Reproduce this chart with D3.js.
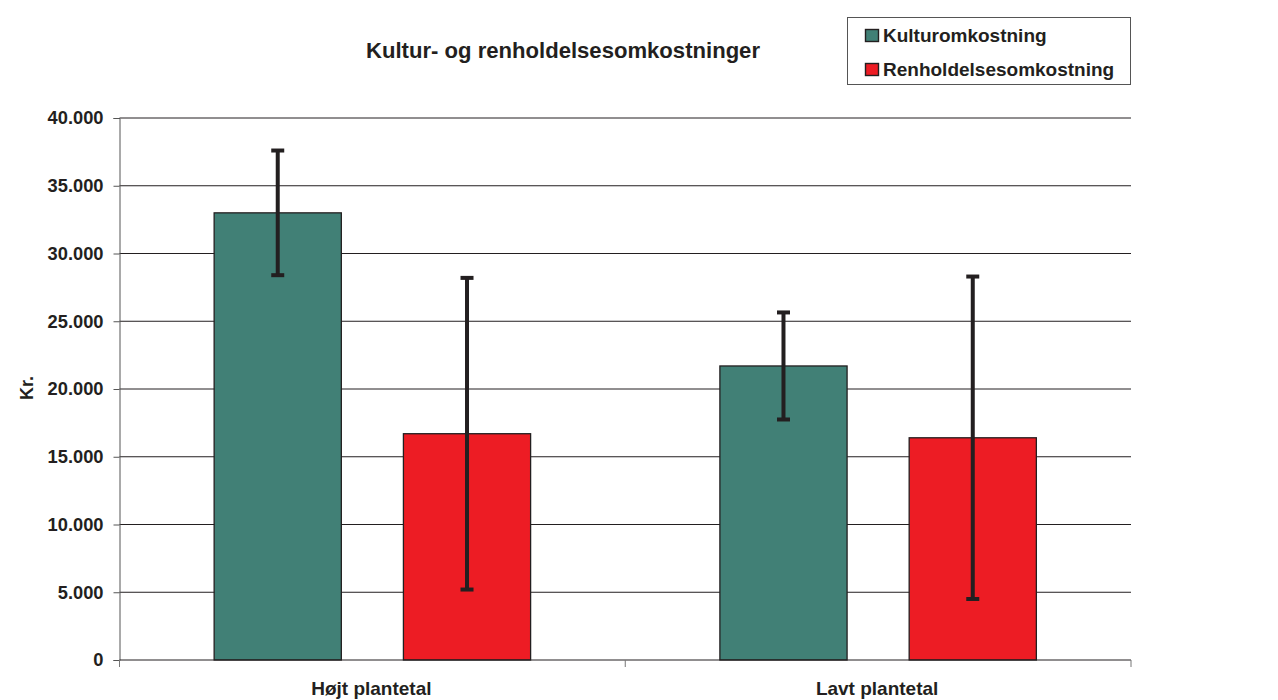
<!DOCTYPE html>
<html>
<head>
<meta charset="utf-8">
<script src="https://cdn.jsdelivr.net/npm/d3@7"></script>
<style>
  body { margin: 0; background: #fff; }
  text { font-family: "Liberation Sans", Arial, sans-serif; font-weight: bold; fill: #231f20; }
</style>
</head>
<body>
<svg id="chart" width="1278" height="700"></svg>
<script>
const categories = ['Højt plantetal', 'Lavt plantetal'];
const seriesNames = ['Kulturomkostning', 'Renholdelsesomkostning'];
const kulturValues = [33000, 21700];
const kulturErrors = [4600, 3950];
const renholdValues = [16700, 16400];
const renholdErrors = [11500, 11900];
const yTicks = [0, 5000, 10000, 15000, 20000, 25000, 30000, 35000, 40000];

const colors = ['#418076', '#ed1c24'];
const svg = d3.select('#chart');
const margin = { left: 119.5, right: 1131, top: 118, bottom: 660 };

const x0 = d3.scaleBand().domain(categories).range([margin.left, margin.right]);
const x1 = d3.scaleBand().domain(seriesNames).range([0, x0.bandwidth()]).paddingInner(0.328).paddingOuter(0.5);
const y = d3.scaleLinear().domain([0, 40000]).range([margin.bottom, margin.top]);

const fmt = d => d === 0 ? '0' : d3.format(',')(d).replace(/,/g, '.');

// gridlines
svg.append('g').selectAll('line').data(yTicks.filter(d => d > 0)).enter().append('line')
    .attr('x1', margin.left).attr('x2', margin.right)
    .attr('y1', d => y(d)).attr('y2', d => y(d))
    .attr('stroke', '#231f20').attr('stroke-width', 1);

// bars
const rows = categories.map((c, i) => [
    { cat: c, name: seriesNames[0], value: kulturValues[i], err: kulturErrors[i], color: colors[0] },
    { cat: c, name: seriesNames[1], value: renholdValues[i], err: renholdErrors[i], color: colors[1] }
]).flat();

svg.append('g').selectAll('rect').data(rows).enter().append('rect')
    .attr('x', d => x0(d.cat) + x1(d.name))
    .attr('y', d => y(d.value))
    .attr('width', x1.bandwidth())
    .attr('height', d => y(0) - y(d.value))
    .attr('fill', d => d.color)
    .attr('stroke', '#231f20').attr('stroke-width', 1.3);

// error bars
const eb = svg.append('g').attr('stroke', '#231f20').attr('stroke-width', 4);
rows.forEach(d => {
    const cx = x0(d.cat) + x1(d.name) + x1.bandwidth() / 2;
    eb.append('line').attr('x1', cx).attr('x2', cx).attr('y1', y(d.value + d.err)).attr('y2', y(d.value - d.err));
    eb.append('line').attr('x1', cx - 6.5).attr('x2', cx + 6.5).attr('y1', y(d.value + d.err)).attr('y2', y(d.value + d.err));
    eb.append('line').attr('x1', cx - 6.5).attr('x2', cx + 6.5).attr('y1', y(d.value - d.err)).attr('y2', y(d.value - d.err));
});

// y axis
const yAxis = svg.append('g').attr('transform', `translate(${margin.left},0)`)
    .call(d3.axisLeft(y).tickValues(yTicks).tickFormat(fmt).tickSize(6).tickPadding(10));
yAxis.select('.domain').attr('stroke', '#555');
yAxis.selectAll('.tick line').attr('stroke', '#555');
yAxis.selectAll('text').style('font-size', '18.3px').attr('fill', '#231f20');

// x axis
svg.append('line').attr('x1', margin.left).attr('x2', margin.right)
    .attr('y1', y(0)).attr('y2', y(0)).attr('stroke', '#231f20').attr('stroke-width', 1);
svg.append('g').selectAll('line').data([margin.left, x0(categories[1]), margin.right]).enter().append('line')
    .attr('x1', d => d).attr('x2', d => d).attr('y1', y(0)).attr('y2', y(0) + 7)
    .attr('stroke', '#777');
svg.append('g').selectAll('text').data(categories).enter().append('text')
    .attr('x', d => x0(d) + x0.bandwidth() / 2 - 1)
    .attr('y', 695)
    .attr('text-anchor', 'middle')
    .style('font-size', '19px')
    .text(d => d);

// y label
svg.append('text').attr('transform', 'translate(33,388) rotate(-90)')
    .attr('text-anchor', 'middle').style('font-size', '18px').text('Kr.');

// title
svg.append('text').attr('x', 563).attr('y', 58).attr('text-anchor', 'middle')
    .style('font-size', '22.1px').text('Kultur- og renholdelsesomkostninger');

// legend
const lg = svg.append('g');
lg.append('rect').attr('x', 847.5).attr('y', 17.5).attr('width', 283).attr('height', 67)
    .attr('fill', '#fff').attr('stroke', '#555').attr('stroke-width', 1);
seriesNames.forEach((n, i) => {
    lg.append('rect').attr('x', 865.5).attr('y', 29.5 + i * 34).attr('width', 13).attr('height', 12)
        .attr('fill', colors[i]).attr('stroke', '#231f20').attr('stroke-width', 1.4);
    lg.append('text').attr('x', 883).attr('y', 42 + i * 34).style('font-size', '19px').text(n);
});
</script>
</body>
</html>
